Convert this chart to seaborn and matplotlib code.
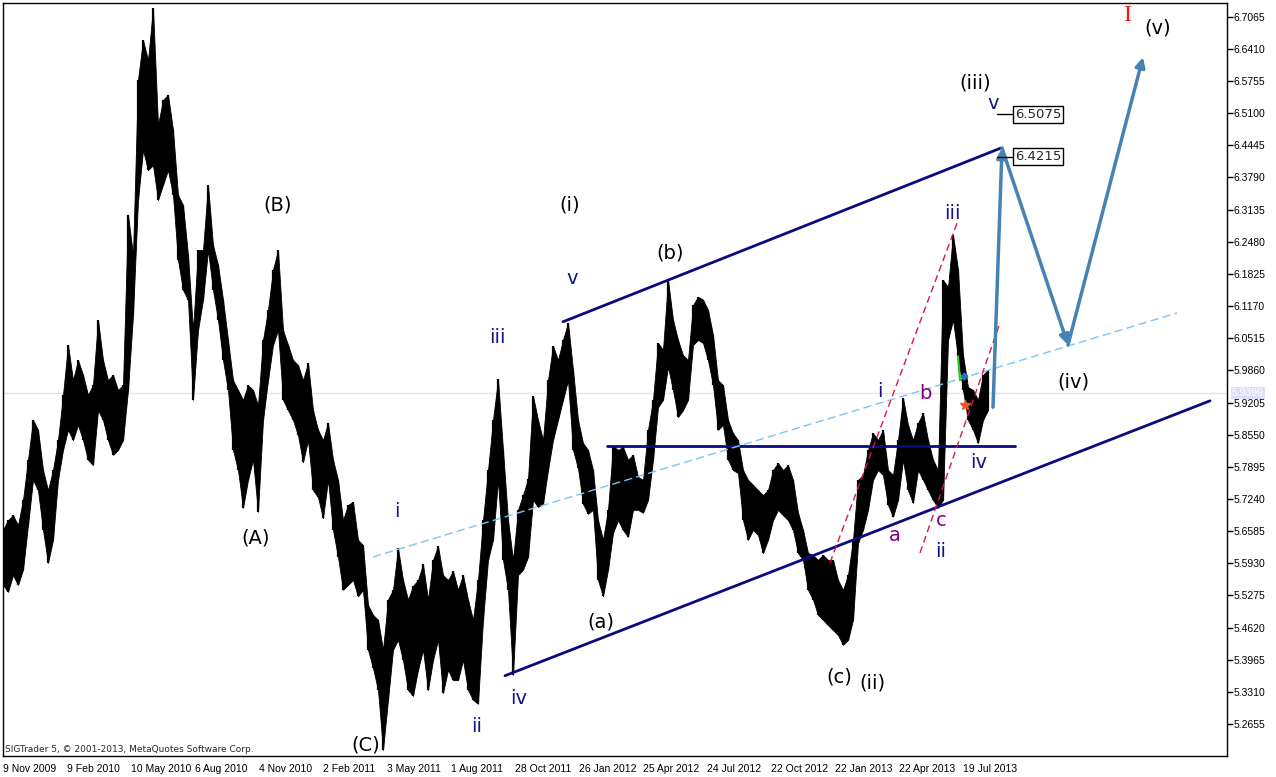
"""Elliott wave chart, daily bars with channel and projection arrows."""
import matplotlib
matplotlib.use("Agg")
import matplotlib.pyplot as plt
import numpy as np
import pandas as pd
import seaborn as sns

# bar data, one sample every 5 daily bars (high / low)
bar_step = 5
high = [5.661, 5.681, 5.691, 5.671, 5.722, 5.804, 5.885, 5.865, 5.783, 5.742,
        5.783, 5.844, 5.936, 6.038, 5.966, 6.007, 5.977, 5.936, 5.956, 6.089,
        6.007, 5.966, 5.977, 5.946, 5.956, 6.303, 6.221, 6.578, 6.659, 6.618,
        6.724, 6.486, 6.537, 6.547, 6.476, 6.343, 6.323, 6.221, 6.068, 6.231,
        6.231, 6.364, 6.241, 6.201, 6.130, 6.048, 5.966, 5.946, 5.926, 5.956,
        5.946, 5.915, 6.048, 6.109, 6.191, 6.231, 6.068, 6.038, 6.007, 5.997,
        5.966, 6.001, 5.905, 5.865, 5.844, 5.879, 5.804, 5.763, 5.681, 5.712,
        5.718, 5.641, 5.630, 5.508, 5.488, 5.478, 5.417, 5.519, 5.539, 5.624,
        5.559, 5.519, 5.547, 5.559, 5.591, 5.519, 5.600, 5.628, 5.569, 5.559,
        5.577, 5.539, 5.569, 5.519, 5.478, 5.559, 5.681, 5.783, 5.885, 5.968,
        5.824, 5.681, 5.600, 5.702, 5.732, 5.765, 5.934, 5.885, 5.844, 5.966,
        6.036, 6.007, 6.048, 6.083, 5.987, 5.885, 5.838, 5.824, 5.783, 5.681,
        5.641, 5.702, 5.832, 5.824, 5.830, 5.804, 5.814, 5.769, 5.763, 5.865,
        5.926, 6.042, 6.028, 6.170, 6.089, 6.048, 6.017, 6.007, 6.119, 6.136,
        6.130, 6.109, 6.058, 5.966, 5.956, 5.885, 5.858, 5.844, 5.783, 5.763,
        5.753, 5.742, 5.732, 5.742, 5.783, 5.797, 5.783, 5.793, 5.763, 5.696,
        5.661, 5.614, 5.610, 5.600, 5.610, 5.600, 5.600, 5.559, 5.539, 5.569,
        5.641, 5.763, 5.773, 5.824, 5.858, 5.844, 5.865, 5.783, 5.773, 5.844,
        5.930, 5.875, 5.844, 5.879, 5.899, 5.844, 5.804, 5.783, 6.170, 6.156,
        6.262, 6.191, 6.017, 5.952, 5.946, 5.926, 5.977, 5.987]
low = [5.549, 5.535, 5.569, 5.549, 5.580, 5.671, 5.763, 5.742, 5.661, 5.594,
       5.641, 5.763, 5.824, 5.865, 5.844, 5.875, 5.844, 5.804, 5.793, 5.905,
       5.885, 5.844, 5.814, 5.824, 5.844, 5.946, 6.099, 6.333, 6.435, 6.394,
       6.404, 6.333, 6.364, 6.394, 6.343, 6.211, 6.150, 6.130, 5.926, 6.068,
       6.130, 6.231, 6.150, 6.089, 6.007, 5.946, 5.824, 5.783, 5.706, 5.763,
       5.804, 5.698, 5.885, 5.966, 6.038, 6.068, 5.926, 5.905, 5.885, 5.854,
       5.799, 5.844, 5.742, 5.728, 5.685, 5.763, 5.661, 5.606, 5.539, 5.549,
       5.559, 5.526, 5.539, 5.417, 5.380, 5.335, 5.213, 5.315, 5.417, 5.437,
       5.396, 5.335, 5.323, 5.376, 5.417, 5.335, 5.396, 5.437, 5.329, 5.376,
       5.355, 5.355, 5.396, 5.335, 5.315, 5.307, 5.478, 5.600, 5.641, 5.763,
       5.600, 5.539, 5.366, 5.569, 5.580, 5.606, 5.722, 5.708, 5.714, 5.783,
       5.844, 5.885, 5.926, 5.966, 5.824, 5.787, 5.714, 5.694, 5.702, 5.559,
       5.526, 5.580, 5.655, 5.681, 5.661, 5.647, 5.702, 5.702, 5.696, 5.722,
       5.804, 5.911, 5.926, 5.993, 5.946, 5.891, 5.905, 5.926, 6.038, 6.048,
       6.042, 6.007, 5.956, 5.865, 5.875, 5.804, 5.783, 5.777, 5.681, 5.641,
       5.661, 5.651, 5.614, 5.641, 5.681, 5.702, 5.691, 5.681, 5.661, 5.614,
       5.600, 5.539, 5.519, 5.488, 5.478, 5.467, 5.457, 5.447, 5.427, 5.437,
       5.478, 5.634, 5.661, 5.702, 5.763, 5.783, 5.773, 5.712, 5.688, 5.722,
       5.804, 5.742, 5.716, 5.783, 5.763, 5.742, 5.722, 5.706, 5.722, 6.048,
       6.089, 6.013, 5.946, 5.885, 5.865, 5.838, 5.885, 5.905]
bar_index = np.arange(len(high)) * bar_step

date_ticks = [0, 64, 128, 192, 256, 320, 384, 448, 512, 576, 640, 704, 768, 832, 896, 960]
date_labels = ["9 Nov 2009", "9 Feb 2010", "10 May 2010", "6 Aug 2010", "4 Nov 2010",
               "2 Feb 2011", "3 May 2011", "1 Aug 2011", "28 Oct 2011", "26 Jan 2012",
               "25 Apr 2012", "24 Jul 2012", "22 Oct 2012", "22 Jan 2013", "22 Apr 2013",
               "19 Jul 2013"]
price_ticks = [5.2655, 5.3310, 5.3965, 5.4620, 5.5275, 5.5930, 5.6585, 5.7240,
               5.7895, 5.8550, 5.9205, 5.9860, 6.0515, 6.1170, 6.1825, 6.2480,
               6.3135, 6.3790, 6.4445, 6.5100, 6.5755, 6.6410, 6.7065]
last_price = 5.9399

# channel and guide lines: (x0, x1), (p0, p1)
upper_channel = ([560, 998], [6.085, 6.439])
lower_channel = ([502, 1207], [5.364, 5.924])
support_x, support_p = [604, 1012], [5.832, 5.832]
median_line = ([370, 1174], [5.606, 6.103])
red_line_a = ([827, 954], [5.594, 6.286])
red_line_b = ([917, 997], [5.614, 6.083])

# projection arrows
proj_x = [990, 999, 1065, 1140]
proj_p = [5.911, 6.439, 6.038, 6.624]
target_levels = [6.5075, 6.4215]

# wave labels: text, x, price
black_labels = [("(B)", 275, 6.323), ("(A)", 253, 5.645), ("(C)", 363, 5.223),
                ("(i)", 567, 6.323), ("(b)", 667, 6.225), ("(a)", 598, 5.474),
                ("(c)", 836, 5.361), ("(ii)", 869, 5.349), ("(iii)", 972, 6.571),
                ("(iv)", 1070, 5.962), ("(v)", 1155, 6.684)]
navy_labels = [("i", 394, 5.698), ("ii", 474, 5.260), ("iii", 494, 6.054),
               ("iv", 516, 5.317), ("v", 569, 6.174),
               ("i", 877, 5.944), ("ii", 938, 5.618), ("iii", 949, 6.305),
               ("iv", 976, 5.799), ("v", 990, 6.530)]
purple_labels = [("a", 892, 5.649), ("b", 922, 5.938), ("c", 938, 5.681)]

sns.set_style("white")
plt.rcParams["font.family"] = ["DejaVu Sans"]

fig = plt.figure(figsize=(12.76, 7.77), dpi=100)
ax = fig.add_axes([3 / 1276, 1 - 756 / 777, 1224 / 1276, 753 / 777])

# current price line
ax.axhline(last_price, color="#e4e4f2", lw=1, zorder=0)

# price bars
ax.fill_between(bar_index, low, high, color="black", lw=0.6, zorder=2)
ax.vlines(bar_index, low, high, color="black", lw=1.6, zorder=2)

# channel
navy = "#0a0a80"
for xs, ps in (upper_channel, lower_channel):
    sns.lineplot(x=xs, y=ps, ax=ax, color=navy, lw=2, zorder=3)
sns.lineplot(x=support_x, y=support_p, ax=ax, color=navy, lw=2, zorder=3)
ax.plot(*median_line, color="#7cc4f4", lw=1, dashes=(6, 3), zorder=3)
for xs, ps in (red_line_a, red_line_b):
    ax.plot(xs, ps, color="#e0144c", lw=1, dashes=(5, 3), zorder=3)

# little markers near the last bars
ax.plot([955, 957], [6.015, 5.966], color="#22cc22", lw=1.5, zorder=4)
ax.plot(961, 5.975, marker="P", color="#1f77c4", ms=5, zorder=4)
ax.plot(962, 5.916, marker="*", color="#ee5522", ms=7, zorder=4)

# projection arrows
arrow_blue = "#4682b4"
for k in range(len(proj_x) - 1):
    ax.annotate("", xy=(proj_x[k + 1], proj_p[k + 1]), xytext=(proj_x[k], proj_p[k]),
                arrowprops=dict(arrowstyle="-|>", color=arrow_blue, lw=2.5,
                                mutation_scale=14, shrinkA=0, shrinkB=0), zorder=5)

# target level marks
for lvl in target_levels:
    ax.plot([994, 1009], [lvl, lvl], color="black", lw=1, zorder=5)
    ax.text(1012, lvl, f"{lvl:.4f}", fontsize=9.5, va="center", ha="left",
            bbox=dict(boxstyle="square,pad=0.15", fc="white", ec="black", lw=1), zorder=6)

for txt, x, p in black_labels:
    ax.text(x, p, txt, fontsize=14, color="black", ha="center", va="center", zorder=6)
for txt, x, p in navy_labels:
    ax.text(x, p, txt, fontsize=14, color="#14148c", ha="center", va="center", zorder=6)
for txt, x, p in purple_labels:
    ax.text(x, p, txt, fontsize=14, color="#800080", ha="center", va="center", zorder=6)
ax.text(1124, 6.708, "I", fontsize=17, family="Liberation Serif", color="#ff1010",
        ha="center", va="center", zorder=6)

ax.text(0.002, 0.003, "SIGTrader 5, \u00a9 2001-2013, MetaQuotes Software Corp.",
        transform=ax.transAxes, fontsize=6.5, ha="left", va="bottom")

# axes
ax.set_xlim(0, 1224)
ax.set_ylim(5.2005, 6.7344)
ax.yaxis.tick_right()
ax.set_yticks(price_ticks)
ax.set_yticklabels([f"{v:.4f}" for v in price_ticks], family="Liberation Sans", fontsize=7.5)
ax.set_xticks(date_ticks)
ax.set_xticklabels(date_labels, ha="left", family="Liberation Sans", fontsize=7.5)
ax.tick_params(axis="both", direction="out", length=4, width=1, pad=1, colors="black")
ax.tick_params(axis="x", pad=2)
for s in ax.spines.values():
    s.set_color("black")
    s.set_linewidth(1)
ax.set_xlabel("")
ax.set_ylabel("")

ax.text(1.004, last_price, f"{last_price:.4f}", transform=ax.get_yaxis_transform(),
        fontsize=7.5, family="Liberation Sans", color="white", va="center", ha="left",
        bbox=dict(boxstyle="square,pad=0.1", fc="#dcdff5", ec="none"), zorder=6)

fig.savefig("out.png", dpi=100)
plt.close(fig)
